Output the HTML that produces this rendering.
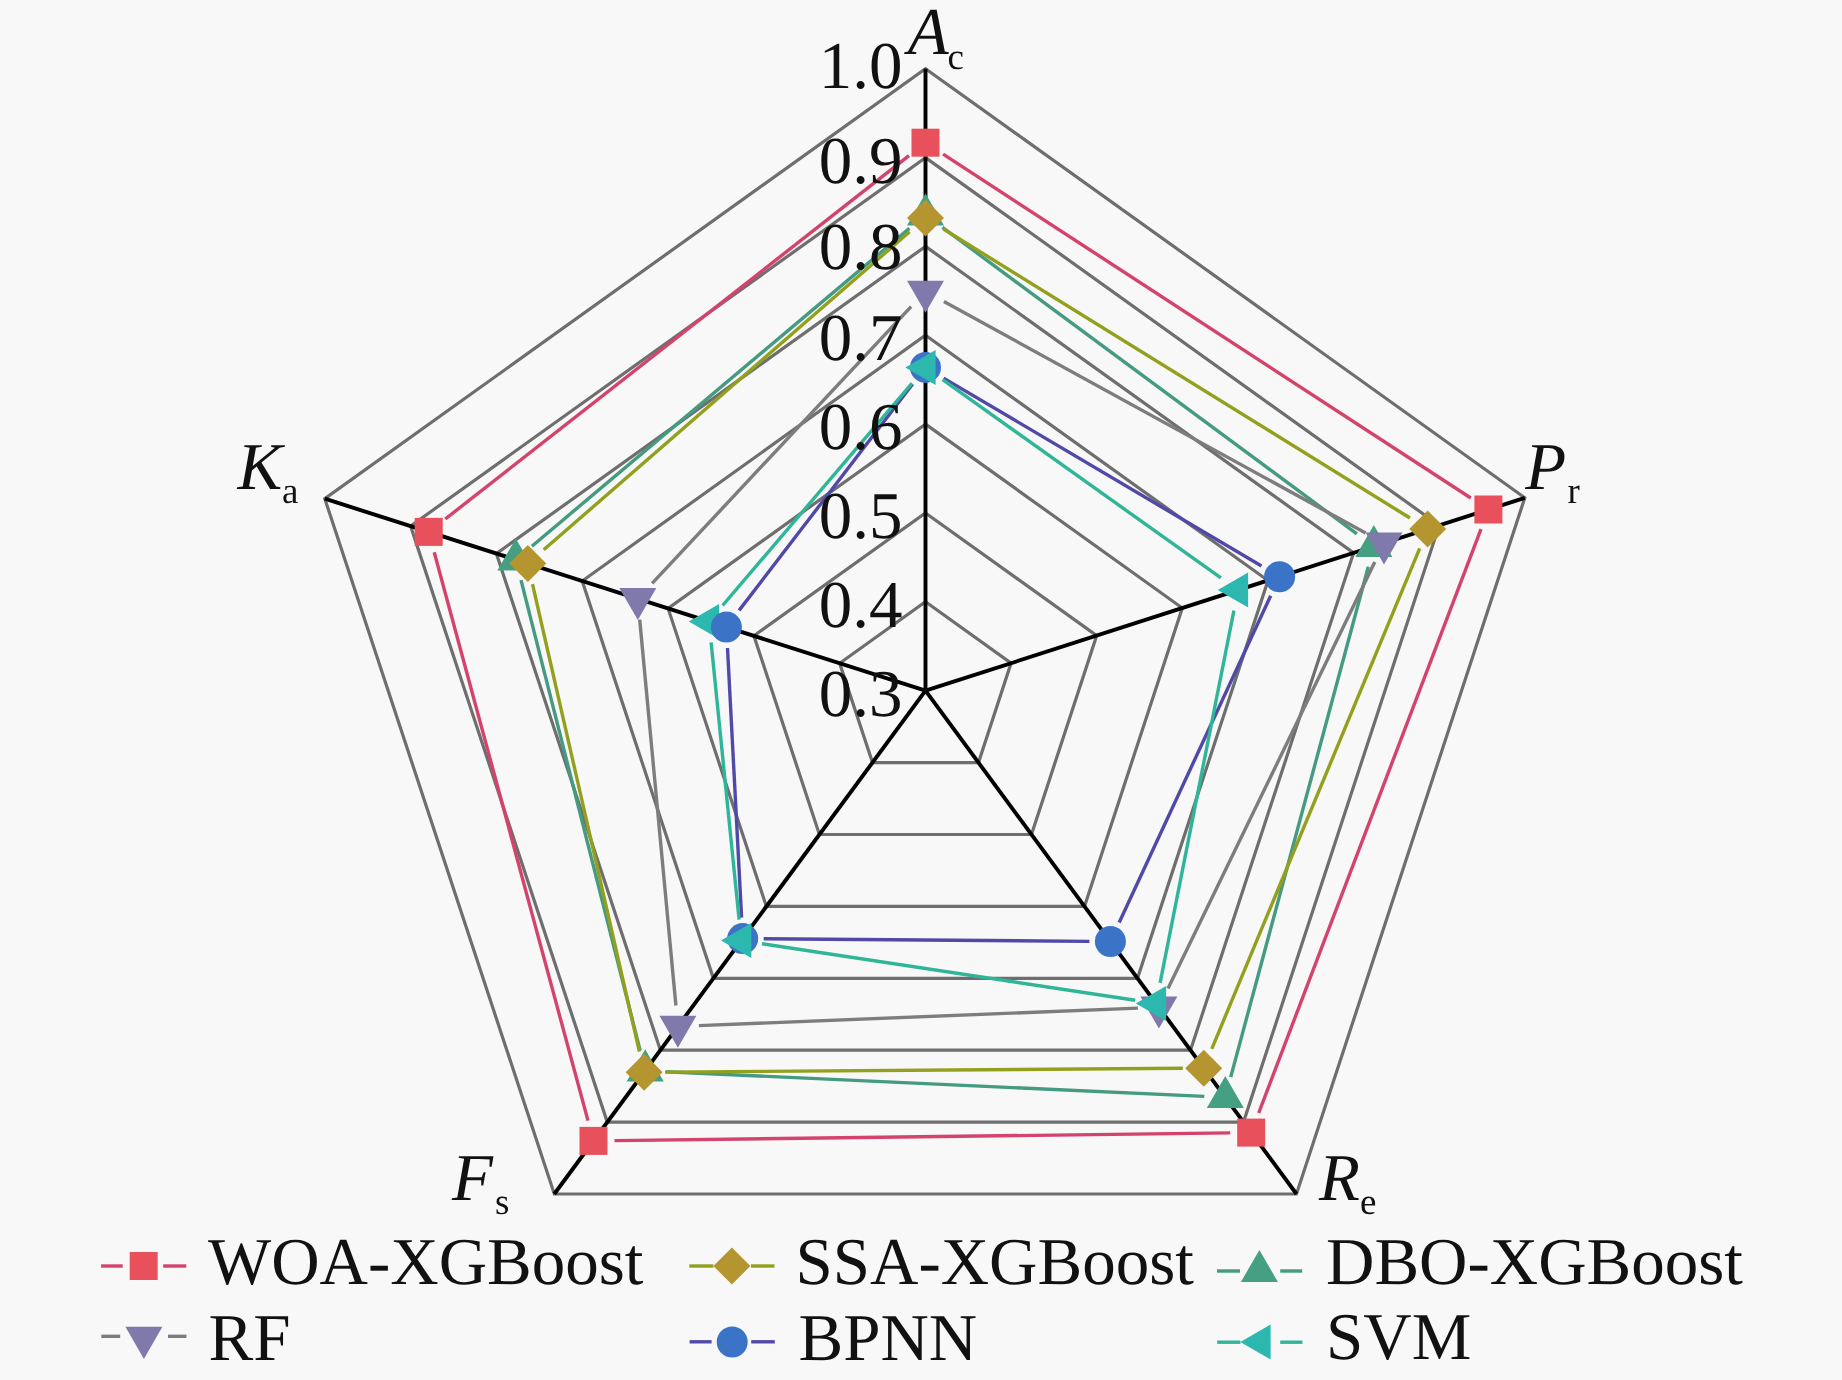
<!DOCTYPE html>
<html><head><meta charset="utf-8"><title>Radar chart</title>
<style>
html,body{margin:0;padding:0;background:#f8f8f8;}
body{width:1842px;height:1380px;position:relative;overflow:hidden;font-family:"Liberation Serif",serif;}
</style></head><body>
<svg width="1842" height="1380" viewBox="0 0 1842 1380" style="position:absolute;left:0;top:0;will-change:transform">
<g fill="none" stroke="#6e6e6e" stroke-width="3.2" stroke-linejoin="miter">
<polygon points="925.5,601.8 1011.1,663.1 978.5,762.6 872.5,762.6 839.7,663.3"/>
<polygon points="925.5,513.0 1096.7,635.6 1031.5,834.5 819.4,834.5 753.9,635.8"/>
<polygon points="925.5,424.1 1182.3,608.0 1084.5,906.4 766.4,906.4 668.1,608.4"/>
<polygon points="925.5,335.3 1268.0,580.5 1137.5,978.3 713.4,978.3 582.2,581.0"/>
<polygon points="925.5,246.4 1353.6,552.9 1190.5,1050.2 660.4,1050.2 496.4,553.6"/>
<polygon points="925.5,157.6 1439.2,525.4 1243.5,1122.1 607.3,1122.1 410.6,526.1"/>
<polygon points="925.5,68.7 1524.8,497.8 1296.5,1194.0 554.3,1194.0 324.8,498.7"/>
</g>
<g stroke="#000" stroke-width="3.9" stroke-linecap="butt">
<line x1="925.5" y1="690.7" x2="925.5" y2="68.7"/>
<line x1="925.5" y1="690.7" x2="1524.8" y2="497.8"/>
<line x1="925.5" y1="690.7" x2="1296.5" y2="1194.0"/>
<line x1="925.5" y1="690.7" x2="554.3" y2="1194.0"/>
<line x1="925.5" y1="690.7" x2="324.8" y2="498.7"/>
</g>
<g stroke="#459a82" stroke-width="3.4" fill="none">
<line x1="942.4" y1="227.4" x2="1356.9" y2="533.9"/>
<line x1="1368.3" y1="566.7" x2="1230.7" y2="1077.1"/>
<line x1="1204.3" y1="1096.4" x2="666.2" y2="1071.7"/>
<line x1="640.1" y1="1050.3" x2="521.0" y2="580.1"/>
<line x1="531.9" y1="546.2" x2="909.4" y2="228.4"/>
</g>
<g stroke="#d4436c" stroke-width="3.4" fill="none">
<line x1="943.1" y1="154.2" x2="1470.8" y2="498.0"/>
<line x1="1481.0" y1="529.1" x2="1258.7" y2="1113.0"/>
<line x1="1230.2" y1="1132.9" x2="614.5" y2="1140.6"/>
<line x1="588.0" y1="1120.6" x2="434.2" y2="552.2"/>
<line x1="445.3" y1="519.0" x2="909.0" y2="155.7"/>
</g>
<g stroke="#93a01e" stroke-width="3.4" fill="none">
<line x1="943.4" y1="229.0" x2="1409.9" y2="518.0"/>
<line x1="1419.7" y1="548.4" x2="1211.8" y2="1048.8"/>
<line x1="1182.8" y1="1068.3" x2="665.1" y2="1072.1"/>
<line x1="639.4" y1="1051.7" x2="532.5" y2="584.1"/>
<line x1="543.7" y1="549.8" x2="909.6" y2="231.8"/>
</g>
<g stroke="#7d7d7d" stroke-width="3.4" fill="none">
<line x1="943.9" y1="301.5" x2="1365.6" y2="533.0"/>
<line x1="1374.8" y1="562.0" x2="1168.0" y2="988.4"/>
<line x1="1137.9" y1="1008.1" x2="698.9" y2="1025.6"/>
<line x1="675.9" y1="1005.5" x2="639.7" y2="619.6"/>
<line x1="652.1" y1="583.4" x2="911.1" y2="306.7"/>
</g>
<g stroke="#5149a8" stroke-width="3.4" fill="none">
<line x1="943.6" y1="378.1" x2="1261.5" y2="566.0"/>
<line x1="1270.7" y1="595.8" x2="1119.2" y2="922.5"/>
<line x1="1089.4" y1="941.4" x2="763.7" y2="938.7"/>
<line x1="741.6" y1="917.6" x2="727.5" y2="648.0"/>
<line x1="739.1" y1="610.4" x2="912.7" y2="384.0"/>
</g>
<g stroke="#2fb597" stroke-width="3.4" fill="none">
<line x1="942.6" y1="379.6" x2="1220.9" y2="577.9"/>
<line x1="1233.9" y1="610.7" x2="1160.1" y2="982.8"/>
<line x1="1135.2" y1="1000.3" x2="762.0" y2="943.7"/>
<line x1="739.1" y1="919.7" x2="711.1" y2="642.4"/>
<line x1="722.6" y1="605.5" x2="911.9" y2="383.4"/>
</g>
<polygon points="925.5,193.5 944.0,225.6 907.0,225.6" fill="#45a083"/>
<polygon points="1373.8,525.0 1392.3,557.1 1355.3,557.1" fill="#45a083"/>
<polygon points="1225.3,1076.0 1243.8,1108.0 1206.8,1108.0" fill="#45a083"/>
<polygon points="645.2,1049.3 663.7,1081.4 626.7,1081.4" fill="#45a083"/>
<polygon points="515.8,538.4 534.3,570.4 497.3,570.4" fill="#45a083"/>
<rect x="911.5" y="128.7" width="28" height="28" fill="#e8505b"/>
<rect x="1474.4" y="495.5" width="28" height="28" fill="#e8505b"/>
<rect x="1237.2" y="1118.6" width="28" height="28" fill="#e8505b"/>
<rect x="579.5" y="1126.9" width="28" height="28" fill="#e8505b"/>
<rect x="414.7" y="517.9" width="28" height="28" fill="#e8505b"/>
<polygon points="925.5,199.5 944.0,218.0 925.5,236.5 907.0,218.0" fill="#b5952f"/>
<polygon points="1427.7,510.5 1446.2,529.0 1427.7,547.5 1409.2,529.0" fill="#b5952f"/>
<polygon points="1203.8,1049.7 1222.2,1068.2 1203.8,1086.7 1185.2,1068.2" fill="#b5952f"/>
<polygon points="644.1,1053.7 662.6,1072.2 644.1,1090.7 625.6,1072.2" fill="#b5952f"/>
<polygon points="527.8,545.1 546.3,563.6 527.8,582.1 509.3,563.6" fill="#b5952f"/>
<polygon points="925.5,312.7 944.0,280.7 907.0,280.7" fill="#7f7aab"/>
<polygon points="1384.0,564.5 1402.5,532.5 1365.5,532.5" fill="#7f7aab"/>
<polygon points="1158.9,1028.6 1177.4,996.6 1140.4,996.6" fill="#7f7aab"/>
<polygon points="677.9,1047.8 696.4,1015.7 659.4,1015.7" fill="#7f7aab"/>
<polygon points="637.8,620.1 656.3,588.1 619.3,588.1" fill="#7f7aab"/>
<polygon points="688.8,621.5 719.1,604.0 719.1,639.0" fill="#2cb8ae"/>
<circle cx="925.5" cy="367.4" r="15.5" fill="#3b74c6"/>
<circle cx="1279.6" cy="576.7" r="15.5" fill="#3b74c6"/>
<circle cx="1110.4" cy="941.5" r="15.5" fill="#3b74c6"/>
<circle cx="742.7" cy="938.6" r="15.5" fill="#3b74c6"/>
<circle cx="726.4" cy="627.1" r="15.5" fill="#3b74c6"/>
<polygon points="905.3,367.4 935.6,349.9 935.6,384.9" fill="#2cb8ae"/>
<polygon points="1217.8,590.1 1248.1,572.6 1248.1,607.6" fill="#2cb8ae"/>
<polygon points="1135.8,1003.4 1166.1,985.9 1166.1,1020.9" fill="#2cb8ae"/>
<polygon points="721.0,940.6 751.3,923.1 751.3,958.1" fill="#2cb8ae"/>
<g stroke="#d4436c" stroke-width="3.4"><line x1="101.1" y1="1266.0" x2="122.7" y2="1266.0"/><line x1="163.2" y1="1266.0" x2="186.3" y2="1266.0"/></g>
<rect x="129.7" y="1252.0" width="28" height="28" fill="#e8505b"/>
<g stroke="#93a01e" stroke-width="3.4"><line x1="689.3" y1="1266.0" x2="713.4" y2="1266.0"/><line x1="750.9" y1="1266.0" x2="774.5" y2="1266.0"/></g>
<polygon points="731.9,1247.5 750.4,1266.0 731.9,1284.5 713.4,1266.0" fill="#b5952f"/>
<g stroke="#459a82" stroke-width="3.4"><line x1="1217.0" y1="1271.0" x2="1240.0" y2="1271.0"/><line x1="1280.2" y1="1271.0" x2="1302.2" y2="1271.0"/></g>
<polygon points="1259.4,1249.9 1277.9,1282.0 1240.9,1282.0" fill="#45a083"/>
<g stroke="#7d7d7d" stroke-width="3.4"><line x1="101.3" y1="1336.3" x2="120.2" y2="1336.3"/><line x1="168.0" y1="1336.3" x2="186.5" y2="1336.3"/></g>
<polygon points="143.9,1358.9 162.4,1326.8 125.4,1326.8" fill="#7f7aab"/>
<g stroke="#5149a8" stroke-width="3.4"><line x1="689.6" y1="1341.8" x2="711.6" y2="1341.8"/><line x1="751.2" y1="1341.8" x2="774.8" y2="1341.8"/></g>
<circle cx="732.2" cy="1342.0" r="15.5" fill="#3b74c6"/>
<g stroke="#2fb597" stroke-width="3.4"><line x1="1217.2" y1="1342.2" x2="1240.4" y2="1342.2"/><line x1="1280.2" y1="1342.2" x2="1302.4" y2="1342.2"/></g>
<polygon points="1240.3,1342.0 1270.6,1324.5 1270.6,1359.5" fill="#2cb8ae"/>
<g font-family="Liberation Serif, serif" font-size="67" fill="#111" text-rendering="geometricPrecision">
<text x="902.5" y="88.0" text-anchor="end">1.0</text>
<text x="902.5" y="182.6" text-anchor="end">0.9</text>
<text x="902.5" y="268.6" text-anchor="end">0.8</text>
<text x="902.5" y="360.3" text-anchor="end">0.7</text>
<text x="902.5" y="449.2" text-anchor="end">0.6</text>
<text x="902.5" y="538.0" text-anchor="end">0.5</text>
<text x="902.5" y="626.9" text-anchor="end">0.4</text>
<text x="902.5" y="715.8" text-anchor="end">0.3</text>
<text x="907.7" y="54.3" font-style="italic">A</text>
<text x="947.5" y="68.5" font-size="37">c</text>
<text x="1525.3" y="489.1" font-style="italic">P</text>
<text x="1567.5" y="502.6" font-size="37">r</text>
<text x="1318.9" y="1199.6" font-style="italic">R</text>
<text x="1360.0" y="1213.9" font-size="37">e</text>
<text x="452.0" y="1199.6" font-style="italic">F</text>
<text x="495.0" y="1214.3" font-size="37">s</text>
<text x="237.5" y="489.1" font-style="italic">K</text>
<text x="282.0" y="502.6" font-size="37">a</text>
<text x="208" y="1283.5">WOA-XGBoost</text>
<text x="795.5" y="1283.5">SSA-XGBoost</text>
<text x="1326" y="1284">DBO-XGBoost</text>
<text x="208.5" y="1359.5">RF</text>
<text x="798.5" y="1359.5">BPNN</text>
<text x="1326" y="1358.5">SVM</text>
</g>
</svg>
</body></html>
